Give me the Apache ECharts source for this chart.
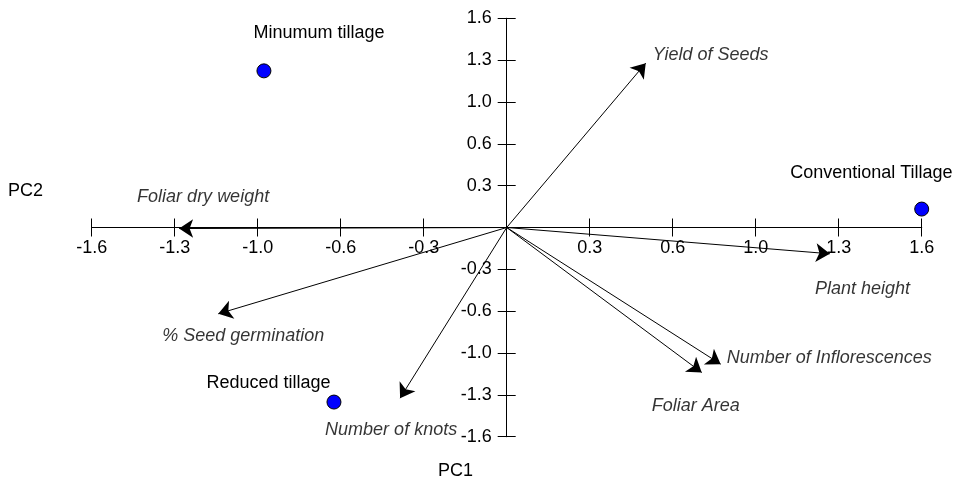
<!DOCTYPE html>
<html>
<head>
<meta charset="utf-8">
<script src="https://cdn.jsdelivr.net/npm/echarts@6/dist/echarts.min.js"></script>
<style>
  html, body { margin: 0; padding: 0; background: #fff; }
  #chart { width: 954px; height: 482px; }
</style>
</head>
<body>
<div id="chart"></div>
<script>
// Axis ticks (values every 0.32, printed with one decimal)
const tickValues = [-1.6, -1.28, -0.96, -0.64, -0.32, 0, 0.32, 0.64, 0.96, 1.28, 1.6];
const tickLabels = ['-1.6', '-1.3', '-1.0', '-0.6', '-0.3', '', '0.3', '0.6', '1.0', '1.3', '1.6'];

// Treatments (scores)
const treatments = ['Minumum tillage', 'Conventional Tillage', 'Reduced tillage'];
const treatX = [-0.936, 1.6, -0.666];
const treatY = [1.198, 0.141, -1.335];

// Variables (loadings)
const variables = ['Yield of Seeds', 'Foliar dry weight', 'Plant height', 'Number of Inflorescences',
  'Foliar Area', '% Seed germination', 'Number of knots'];
const varX = [0.536, -1.263, 1.246, 0.825, 0.752, -1.112, -0.411];
const varY = [1.257, -0.008, -0.201, -1.045, -1.109, -0.66, -1.305];

// label offsets in px (style only)
const treatLabelOffset = [[-10, -37], [-131, -36], [-127, -19]];
const varLabelOffset = [[7, -8], [-42, -32], [-15, 35], [6, -6], [-50, 33], [-56, 22], [-75, 32]];

const FONT = 'Arial, "Liberation Sans", sans-serif';
const FS = 18;

const GRID = { left: 91.7, right: 32.3, top: 18.3, bottom: 45.3 };
const plotW = 954 - GRID.left - GRID.right;
const plotH = 482 - GRID.top - GRID.bottom;

const chart = echarts.init(document.getElementById('chart'));

const tickFmt = v => {
  let best = 0;
  tickValues.forEach((t, i) => { if (Math.abs(t - v) < Math.abs(tickValues[best] - v)) best = i; });
  return tickLabels[best];
};

const baseAxis = {
  type: 'value',
  min: -1.6,
  max: 1.6,
  interval: 0.32,
  splitLine: { show: false },
  axisLine: { onZero: false, lineStyle: { color: '#000', width: 1 } },
  axisTick: { length: 9, lineStyle: { color: '#000', width: 1 } }
};

const option = {
  backgroundColor: '#fff',
  animation: false,
  grid: GRID,
  xAxis: [
    Object.assign({}, baseAxis, {
      position: 'bottom',
      offset: -plotH / 2,
      axisLabel: { formatter: tickFmt, color: '#000', fontSize: FS, fontFamily: FONT, margin: 12 }
    }),
    Object.assign({}, baseAxis, {
      position: 'bottom',
      offset: -plotH / 2,
      axisTick: { length: 9, inside: true, lineStyle: { color: '#000', width: 1 } },
      axisLabel: { show: false }
    })
  ],
  yAxis: [
    Object.assign({}, baseAxis, {
      position: 'left',
      offset: -plotW / 2,
      axisLabel: { formatter: tickFmt, color: '#000', fontSize: FS, fontFamily: FONT, margin: 15 }
    }),
    Object.assign({}, baseAxis, {
      position: 'left',
      offset: -plotW / 2,
      axisTick: { length: 9, inside: true, lineStyle: { color: '#000', width: 1 } },
      axisLabel: { show: false }
    })
  ],
  graphic: [
    { type: 'text', left: 8, top: 182, style: { text: 'PC2', font: FS + 'px ' + FONT, fill: '#000' } },
    { type: 'text', left: 438, top: 462, style: { text: 'PC1', font: FS + 'px ' + FONT, fill: '#000' } }
  ],
  series: [
    {
      type: 'lines',
      coordinateSystem: 'cartesian2d',
      silent: true,
      symbol: ['none', 'arrow'],
      symbolSize: [8, 14],
      lineStyle: { color: '#000', width: 1, opacity: 1 },
      data: variables.map((n, i) => ({ coords: [[0, 0], [varX[i], varY[i]]] }))
    },
    {
      type: 'scatter',
      symbolSize: 0,
      silent: true,
      data: variables.map((n, i) => ({
        value: [varX[i], varY[i]],
        label: {
          show: true,
          formatter: n,
          position: varLabelOffset[i],
          align: 'left',
          verticalAlign: 'middle',
          color: '#000',
          fontSize: FS,
          fontStyle: 'italic',
          fontFamily: FONT
        }
      }))
    },
    {
      type: 'scatter',
      symbol: 'circle',
      symbolSize: 14,
      itemStyle: { color: '#0000ff', borderColor: '#000', borderWidth: 1, opacity: 1 },
      data: treatments.map((n, i) => ({
        value: [treatX[i], treatY[i]],
        label: {
          show: true,
          formatter: n,
          position: [treatLabelOffset[i][0] + 7, treatLabelOffset[i][1] + 7],
          align: 'left',
          verticalAlign: 'middle',
          color: '#000',
          fontSize: FS,
          fontFamily: FONT
        }
      }))
    }
  ]
};

chart.setOption(option);
window.addEventListener('resize', () => chart.resize());
</script>
</body>
</html>
